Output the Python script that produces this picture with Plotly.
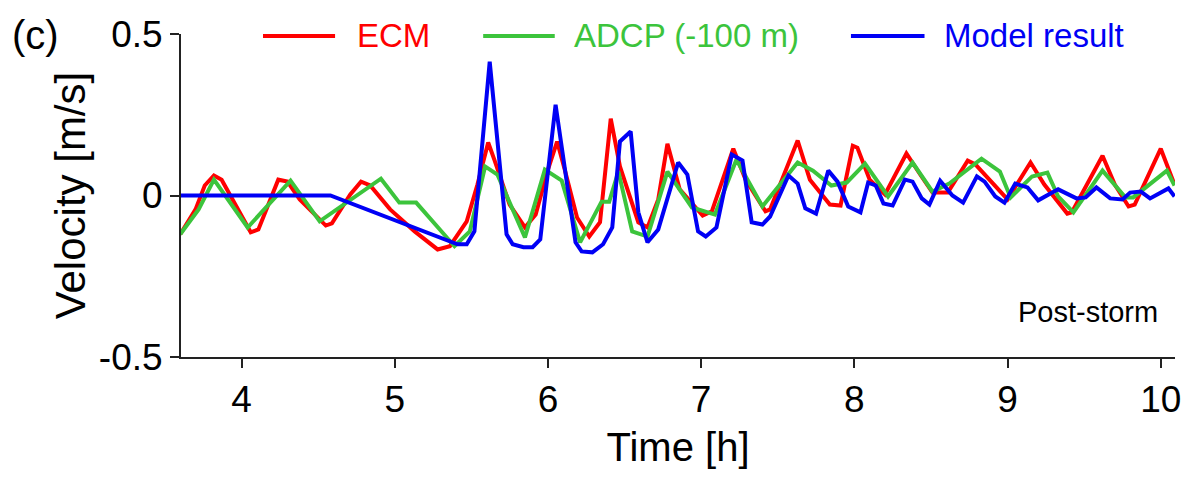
import plotly.graph_objects as go

# ---------------- data ----------------
ecm_t = [3.60, 3.70, 3.76, 3.82, 3.87, 3.96, 4.06, 4.11, 4.19, 4.24, 4.30, 4.38, 4.55, 4.59,
         4.71, 4.78, 4.84, 4.97, 5.13, 5.28, 5.36, 5.47, 5.54, 5.61, 5.65, 5.75, 5.85, 5.92,
         6.00, 6.06, 6.11, 6.19, 6.27, 6.34, 6.41, 6.47, 6.59, 6.65, 6.72, 6.78, 6.86, 7.01,
         7.07, 7.21, 7.29, 7.42, 7.45, 7.63, 7.71, 7.84, 7.91, 7.99, 8.02, 8.10, 8.20, 8.34,
         8.43, 8.51, 8.61, 8.74, 8.79, 9.00, 9.15, 9.24, 9.39, 9.42, 9.62, 9.70, 9.79, 9.83,
         10.00, 10.09]
ecm_v = [-0.120, -0.043, 0.031, 0.062, 0.049, -0.028, -0.114, -0.105, -0.012, 0.049, 0.043,
         -0.012, -0.093, -0.086, 0.003, 0.043, 0.031, -0.043, -0.111, -0.167, -0.157, -0.080,
         0.034, 0.164, 0.111, -0.028, -0.099, -0.059, 0.080, 0.167, 0.080, -0.068, -0.127,
         -0.083, 0.238, 0.090, -0.083, -0.099, -0.012, 0.160, 0.019, -0.062, -0.049, 0.145,
         0.049, -0.049, -0.043, 0.170, 0.049, -0.028, -0.031, 0.154, 0.148, 0.049, 0.003,
         0.130, 0.065, 0.009, 0.009, 0.108, 0.096, -0.012, 0.102, 0.034, -0.056, -0.052,
         0.123, 0.034, -0.034, -0.028, 0.145, 0.034]

adcp_t = [3.60, 3.72, 3.82, 4.04, 4.32, 4.51, 4.91, 5.03, 5.14, 5.28, 5.39, 5.49, 5.59, 5.67,
          5.85, 5.98, 6.09, 6.21, 6.35, 6.40, 6.46, 6.55, 6.65, 6.78, 6.94, 7.09, 7.23, 7.40,
          7.63, 7.73, 7.85, 7.95, 8.07, 8.22, 8.38, 8.51, 8.62, 8.83, 8.95, 9.02, 9.16, 9.26,
          9.33, 9.43, 9.62, 9.77, 9.82, 10.04, 10.09]
adcp_v = [-0.120, -0.043, 0.049, -0.099, 0.046, -0.080, 0.052, -0.022, -0.022, -0.099, -0.157,
          -0.111, 0.090, 0.065, -0.130, 0.080, 0.046, -0.145, -0.019, -0.019, 0.074, -0.111,
          -0.127, 0.074, -0.037, -0.059, 0.111, -0.034, 0.102, 0.077, 0.031, 0.040, 0.099,
          -0.003, 0.102, 0.012, 0.037, 0.114, 0.074, -0.006, 0.059, 0.071, -0.003, -0.052,
          0.077, -0.006, -0.006, 0.077, 0.031]

model_t = [3.60, 4.58, 5.41, 5.47, 5.52, 5.62, 5.73, 5.77, 5.84, 5.90, 5.95, 6.05, 6.18, 6.22,
           6.29, 6.36, 6.42, 6.47, 6.54, 6.59, 6.65, 6.72, 6.85, 6.91, 6.98, 7.03, 7.10, 7.20,
           7.27, 7.33, 7.40, 7.45, 7.57, 7.63, 7.68, 7.75, 7.83, 7.89, 7.96, 8.04, 8.09, 8.14,
           8.19, 8.25, 8.33, 8.38, 8.44, 8.49, 8.56, 8.64, 8.71, 8.80, 8.85, 8.92, 8.98, 9.05,
           9.13, 9.20, 9.33, 9.45, 9.51, 9.58, 9.67, 9.75, 9.80, 9.87, 9.93, 10.05, 10.09]
model_v = [0.0, 0.0, -0.151, -0.151, -0.111, 0.414, -0.120, -0.151, -0.160, -0.160, -0.136,
           0.281, -0.145, -0.173, -0.176, -0.151, -0.099, 0.167, 0.198, -0.052, -0.145, -0.105,
           0.102, 0.065, -0.111, -0.127, -0.099, 0.127, 0.108, -0.083, -0.090, -0.065, 0.062,
           0.037, -0.040, -0.056, 0.077, 0.043, -0.034, -0.052, 0.040, 0.031, -0.025, -0.031,
           0.049, 0.043, -0.009, -0.028, 0.046, 0.000, -0.022, 0.059, 0.043, -0.003, -0.022,
           0.037, 0.025, -0.015, 0.019, -0.009, -0.006, 0.025, -0.009, -0.012, 0.009, 0.012,
           -0.009, 0.022, -0.003]

series_names = ["ECM", "ADCP (-100 m)", "Model result"]
x_ticks = [4, 5, 6, 7, 8, 9, 10]
y_ticks = [-0.5, 0, 0.5]
y_tick_text = ["-0.5", "0", "0.5"]

# ---------------- styling ----------------
RED = "#ff0000"
GREEN = "#3cc43c"
BLUE = "#0000f5"
FONT = "Liberation Sans, Arial, sans-serif"
LW = 4

fig = go.Figure()
for t, v, name, col in [(ecm_t, ecm_v, series_names[0], RED),
                        (adcp_t, adcp_v, series_names[1], GREEN),
                        (model_t, model_v, series_names[2], BLUE)]:
    fig.add_trace(go.Scatter(x=t, y=v, mode="lines", name=name,
                             line=dict(color=col, width=LW), showlegend=False))

# custom legend (long line samples, coloured text)
legend_items = [(series_names[0], RED, 0.0825, 0.155, 0.175),
                (series_names[1], GREEN, 0.304, 0.376, 0.393),
                (series_names[2], BLUE, 0.674, 0.748, 0.766)]
for name, col, x0, x1, xt in legend_items:
    fig.add_shape(type="line", xref="paper", yref="paper", x0=x0, x1=x1, y0=0.994, y1=0.994,
                  line=dict(color=col, width=LW))
    fig.add_annotation(text=name, xref="paper", yref="paper", x=xt, y=0.994,
                       xanchor="left", yanchor="middle", showarrow=False,
                       font=dict(size=33, color=col, family=FONT))

fig.add_annotation(text="Post-storm", xref="paper", yref="paper", x=0.985, y=0.139,
                   xanchor="right", yanchor="middle", showarrow=False,
                   font=dict(size=29, color="black", family=FONT))
fig.add_annotation(text="(c)", xref="paper", yref="paper", x=-0.172, y=0.997,
                   xanchor="left", yanchor="middle", showarrow=False,
                   font=dict(size=40, color="black", family=FONT))

fig.update_layout(
    width=1194, height=478,
    margin=dict(l=181, r=19, t=34, b=121),
    paper_bgcolor="white", plot_bgcolor="white",
    font=dict(family=FONT, color="black"),
)
fig.update_xaxes(range=[3.605, 10.093], tickvals=x_ticks, showgrid=False, zeroline=False,
                 showline=True, linecolor="#222", linewidth=2,
                 ticks="outside", ticklen=9, tickwidth=2, tickcolor="#222",
                 tickfont=dict(size=37, family=FONT),
                 title=dict(text="Time [h]", font=dict(size=40, family=FONT), standoff=14))
fig.update_yaxes(range=[-0.5, 0.5], tickvals=y_ticks, ticktext=y_tick_text,
                 showgrid=False, zeroline=False,
                 showline=True, linecolor="#222", linewidth=2,
                 ticks="outside", ticklen=9, tickwidth=2, tickcolor="#222",
                 tickfont=dict(size=37, family=FONT),
                 title=dict(text="Velocity [m/s]", font=dict(size=42, family=FONT), standoff=0))

fig.write_html("out.html")
